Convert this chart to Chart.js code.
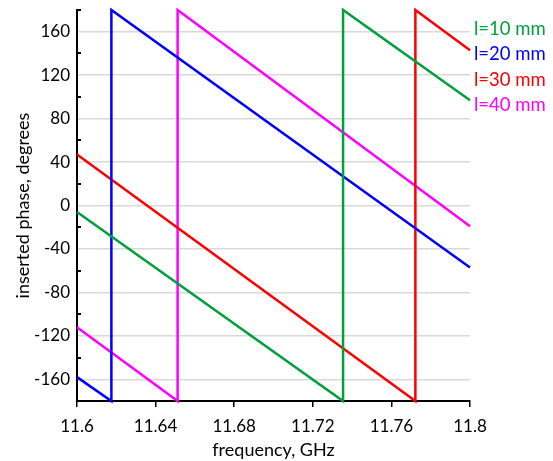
<!DOCTYPE html>
<html>
<head>
<meta charset="utf-8">
<script src="https://cdn.jsdelivr.net/npm/chart.js@4/dist/chart.umd.min.js"></script>
<style>
  html, body { margin: 0; padding: 0; background: #fff; }
  #wrap { width: 553px; height: 461px; position: relative; }
</style>
</head>
<body>
<div id="wrap"><canvas id="c"></canvas></div>
<script>
// data
const seriesNames = ['l=10 mm', 'l=20 mm', 'l=30 mm', 'l=40 mm'];
const seriesColors = ['#00a03c', '#0000ff', '#ff0000', '#ff00ff'];

// each series: start, wrap point (-180 -> 180), end
const freq10 = [11.6, 11.7354, 11.7354, 11.8];
const phase10 = [-6, -180, 180, 97];
const freq20 = [11.6, 11.6175, 11.6175, 11.8];
const phase20 = [-158, -180, 180, -57];
const freq30 = [11.6, 11.7722, 11.7722, 11.8];
const phase30 = [47, -180, 180, 143];
const freq40 = [11.6, 11.6512, 11.6512, 11.8];
const phase40 = [-112, -180, 180, -19];

const yTickValues = [-160, -120, -80, -40, 0, 40, 80, 120, 160];
const yMinorValues = [-180, -140, -100, -60, -20, 20, 60, 100, 140, 180];
const xTickValues = [11.6, 11.64, 11.68, 11.72, 11.76, 11.8];

const FONT = 'Lato';

const toPoints = (xs, ys) => xs.map((x, i) => ({ x: x, y: ys[i] }));
const allFreq = [freq10, freq20, freq30, freq40];
const allPhase = [phase10, phase20, phase30, phase40];

const datasets = seriesNames.map((name, i) => ({
  label: name,
  data: toPoints(allFreq[i], allPhase[i]),
  borderColor: seriesColors[i],
  backgroundColor: seriesColors[i],
  borderWidth: 2.5,
  pointRadius: 0,
  tension: 0,
  clip: 4
}));

// inner minor tick marks on the y axis + coloured series labels on the right
const extras = {
  id: 'extras',
  afterDraw(chart) {
    const ctx = chart.ctx;
    const y = chart.scales.y;
    const area = chart.chartArea;
    ctx.save();
    ctx.strokeStyle = '#000';
    ctx.lineWidth = 2;
    yMinorValues.forEach(v => {
      const py = Math.round(y.getPixelForValue(v));
      ctx.beginPath();
      ctx.moveTo(area.left, py);
      ctx.lineTo(area.left + 4, py);
      ctx.stroke();
    });
    ctx.font = '18.5px ' + FONT;
    ctx.textAlign = 'left';
    ctx.textBaseline = 'middle';
    seriesNames.forEach((name, i) => {
      ctx.fillStyle = seriesColors[i];
      ctx.fillText(name, area.right + 4, area.top + 19 + i * 25.3);
    });
    ctx.restore();
  }
};

new Chart(document.getElementById('c'), {
  type: 'line',
  data: { datasets: datasets },
  options: {
    responsive: true,
    maintainAspectRatio: false,
    animation: false,
    layout: { padding: { top: 10, right: 83, left: 0, bottom: 0 } },
    plugins: {
      legend: { display: false },
      tooltip: { enabled: false }
    },
    scales: {
      x: {
        type: 'linear',
        min: 11.6,
        max: 11.8,
        afterBuildTicks: (axis) => { axis.ticks = xTickValues.map(v => ({ value: v })); },
        afterFit: (axis) => { axis.height = 60; },
        border: { display: true, color: '#000', width: 2 },
        grid: { drawOnChartArea: false, drawTicks: true, tickLength: 6, color: '#000', lineWidth: 1.5 },
        ticks: {
          color: '#000',
          font: { family: FONT, size: 17 },
          padding: 9,
          maxRotation: 0,
          callback: (v) => String(+v.toFixed(2))
        },
        title: {
          display: true,
          text: 'frequency, GHz',
          color: '#000',
          font: { family: FONT, size: 18 },
          padding: { top: 0, bottom: 0 }
        }
      },
      y: {
        min: -180,
        max: 180,
        afterBuildTicks: (axis) => { axis.ticks = yTickValues.map(v => ({ value: v })); },
        afterFit: (axis) => {
          axis.width = 77;
          axis.paddingTop = 0;
          axis.paddingBottom = 0;
        },
        border: { display: true, color: '#000', width: 2 },
        grid: { color: '#d9d9d9', lineWidth: 1.5, drawTicks: false },
        ticks: {
          color: '#000',
          font: { family: FONT, size: 17 },
          padding: 7
        },
        title: {
          display: true,
          text: 'inserted phase, degrees',
          color: '#000',
          font: { family: FONT, size: 18 },
          padding: { top: 12, bottom: 4 }
        }
      }
    }
  },
  plugins: [extras]
});
</script>
</body>
</html>
